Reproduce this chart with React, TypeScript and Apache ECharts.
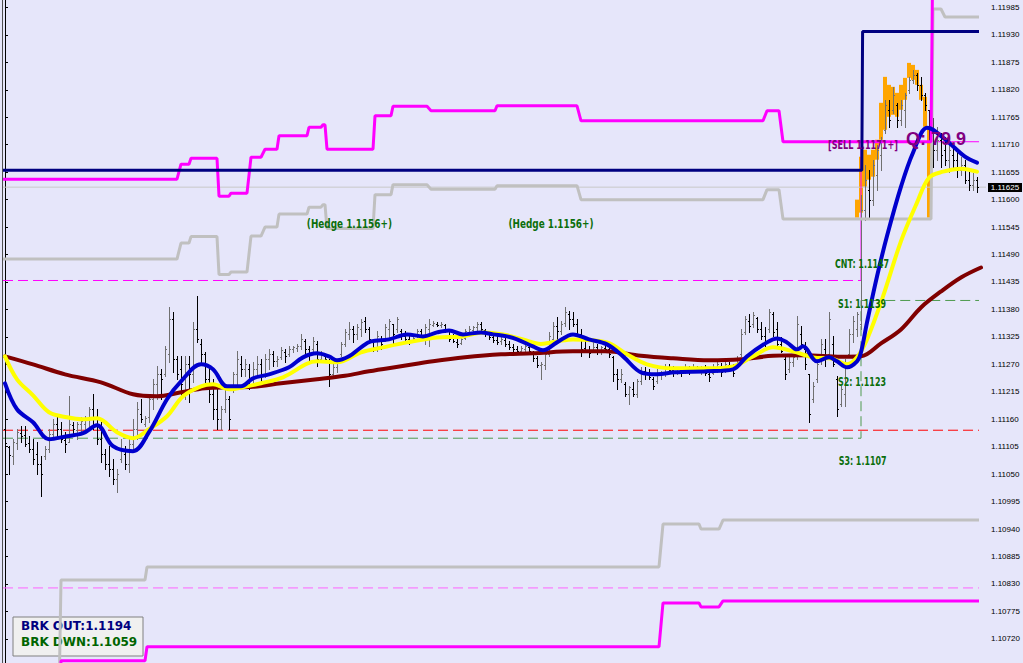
import React, { useEffect, useRef } from "react";
import * as echarts from "echarts";

// price = 1.10000 + v * 0.00001
const BASE = 1.1;
const PT = 0.00001;

const barOpen = [1140,1104,1086,1112,1132,1128,1112,1100,1090,1070,1086,1100,1130,1150,1140,1118,1114,1148,1138,1150,1150,1160,1180,1160,1120,1090,1070,1060,1040,1080,1090,1070,1110,1140,1170,1150,1165,1200,1230,1250,1250,1290,1360,1280,1260,1240,1270,1250,1340,1310,1290,1240,1210,1180,1160,1180,1200,1220,1250,1270,1260,1260,1240,1260,1270,1250,1280,1290,1276,1285,1295,1290,1300,1302,1306,1316,1300,1300,1310,1280,1286,1276,1250,1264,1290,1310,1330,1340,1330,1340,1356,1340,1316,1304,1320,1316,1340,1350,1340,1336,1326,1320,1318,1326,1336,1326,1340,1348,1350,1348,1348,1336,1322,1314,1312,1322,1334,1338,1344,1350,1338,1330,1324,1318,1316,1318,1310,1304,1300,1296,1300,1304,1292,1282,1268,1268,1290,1320,1346,1336,1352,1370,1360,1350,1330,1302,1296,1296,1304,1296,1302,1300,1284,1250,1240,1230,1210,1220,1210,1236,1256,1250,1240,1236,1250,1254,1262,1258,1256,1258,1254,1262,1258,1262,1258,1262,1250,1252,1262,1266,1256,1268,1262,1270,1290,1334,1356,1350,1362,1340,1326,1340,1370,1340,1310,1280,1260,1274,1290,1330,1300,1250,1200,1240,1276,1300,1290,1310,1240,1190,1210,1290,1330,1340,1350,1580,1620,1600,1650,1690,1740,1780,1780,1790,1760,1780,1820,1840,1850,1830,1810,1780,1740,1700,1720,1700,1680,1690,1680,1660,1670,1640,1630,1640];
const barHigh = [1154,1106,1120,1140,1146,1146,1126,1120,1114,1086,1106,1140,1160,1166,1154,1134,1206,1154,1154,1164,1166,1184,1210,1180,1154,1100,1106,1080,1060,1120,1106,1120,1160,1194,1200,1166,1206,1240,1266,1260,1306,1384,1374,1286,1286,1286,1286,1354,1406,1320,1294,1266,1240,1226,1186,1220,1206,1254,1296,1286,1280,1270,1274,1286,1280,1290,1300,1296,1286,1304,1300,1306,1306,1310,1330,1320,1306,1324,1316,1296,1290,1280,1274,1280,1314,1340,1354,1346,1350,1360,1364,1344,1320,1336,1326,1350,1360,1350,1364,1340,1336,1326,1326,1340,1340,1350,1360,1356,1354,1354,1350,1340,1330,1320,1326,1340,1346,1346,1354,1354,1340,1334,1330,1326,1324,1324,1316,1310,1306,1306,1310,1306,1296,1286,1274,1294,1334,1354,1364,1356,1384,1376,1374,1360,1340,1320,1306,1314,1310,1306,1310,1306,1286,1260,1260,1234,1226,1234,1240,1264,1264,1260,1244,1260,1256,1270,1270,1266,1264,1264,1270,1266,1270,1266,1266,1268,1260,1270,1274,1272,1276,1274,1270,1286,1340,1366,1370,1374,1364,1354,1344,1380,1374,1354,1324,1290,1286,1290,1366,1346,1314,1250,1234,1280,1320,1320,1374,1326,1246,1226,1280,1340,1366,1374,1610,1670,1660,1680,1710,1726,1800,1800,1826,1794,1800,1814,1846,1860,1854,1846,1814,1780,1764,1746,1734,1726,1710,1714,1700,1686,1680,1660,1654,1646];
const barLow = [1106,1050,1070,1100,1114,1106,1094,1070,1050,1006,1080,1094,1120,1126,1114,1094,1114,1126,1120,1130,1134,1140,1140,1110,1074,1060,1046,1030,1014,1074,1060,1054,1100,1120,1154,1146,1154,1180,1200,1200,1246,1274,1254,1240,1200,1200,1194,1234,1314,1274,1220,1194,1160,1140,1140,1174,1140,1214,1220,1246,1246,1220,1226,1246,1234,1244,1260,1266,1266,1280,1274,1286,1294,1296,1300,1290,1274,1294,1266,1274,1274,1226,1246,1254,1286,1306,1320,1314,1320,1326,1334,1314,1296,1296,1300,1316,1320,1310,1334,1320,1316,1310,1316,1324,1320,1310,1306,1346,1346,1344,1334,1316,1314,1304,1310,1320,1326,1334,1336,1336,1326,1320,1314,1310,1310,1306,1300,1294,1290,1290,1294,1290,1276,1264,1240,1260,1286,1306,1316,1330,1346,1340,1346,1326,1286,1294,1284,1294,1290,1290,1296,1284,1236,1220,1234,1206,1190,1206,1204,1230,1240,1240,1220,1232,1240,1246,1254,1246,1250,1246,1252,1250,1254,1254,1250,1248,1236,1250,1254,1246,1254,1256,1246,1266,1286,1330,1334,1344,1334,1320,1306,1334,1326,1306,1294,1240,1254,1266,1280,1306,1260,1154,1194,1234,1270,1266,1280,1266,1166,1186,1186,1286,1314,1326,1340,1560,1566,1590,1620,1660,1734,1746,1774,1746,1750,1746,1814,1834,1820,1800,1780,1720,1666,1680,1666,1670,1656,1666,1646,1650,1634,1620,1620,1616];
const barClose = [1112,1088,1115,1135,1126,1110,1100,1080,1070,1050,1100,1130,1150,1140,1120,1110,1150,1140,1150,1156,1160,1180,1150,1120,1090,1070,1060,1040,1050,1100,1070,1110,1140,1180,1160,1162,1200,1230,1250,1240,1300,1360,1280,1250,1230,1270,1250,1340,1320,1290,1240,1210,1180,1160,1180,1200,1160,1250,1280,1260,1270,1240,1260,1270,1250,1280,1290,1276,1280,1298,1286,1300,1304,1306,1320,1300,1290,1316,1280,1290,1280,1250,1264,1276,1310,1334,1340,1330,1345,1355,1340,1320,1304,1326,1310,1344,1356,1330,1360,1326,1320,1316,1322,1336,1326,1344,1350,1352,1348,1350,1340,1320,1316,1310,1320,1336,1340,1344,1350,1340,1330,1324,1318,1314,1320,1310,1304,1300,1296,1302,1306,1296,1282,1268,1270,1290,1326,1346,1336,1350,1374,1360,1350,1330,1300,1298,1292,1304,1296,1304,1300,1290,1250,1240,1250,1210,1225,1210,1236,1256,1250,1244,1226,1250,1254,1262,1258,1256,1260,1252,1264,1256,1264,1258,1262,1252,1244,1262,1270,1254,1270,1262,1252,1282,1330,1360,1346,1368,1340,1326,1312,1374,1334,1310,1296,1250,1274,1284,1350,1310,1270,1170,1226,1270,1310,1280,1360,1270,1180,1220,1270,1330,1356,1370,1580,1640,1600,1670,1700,1720,1790,1760,1810,1760,1790,1810,1840,1850,1830,1810,1790,1730,1700,1720,1690,1680,1700,1680,1660,1670,1640,1630,1640,1625];

// orange bodies: [bar, top, bottom]
const orangeBodies = [[213,1600,1564],[214,1686,1574],[215,1700,1626],[216,1690,1640],[217,1700,1646],[218,1720,1680],[219,1794,1720],[220,1846,1740],[221,1830,1766],[222,1826,1770],[223,1814,1766],[224,1830,1780],[225,1844,1800],[226,1874,1844],[227,1870,1840],[228,1860,1830],[229,1830,1800],[230,1806,1746],[231,1746,1564]];

const blueMA = [[0,1232],[3,1180],[7,1154],[11,1120],[15.5,1126],[19.5,1132],[23,1148],[27,1106],[32,1096],[36,1134],[40.5,1200],[44,1236],[49,1270],[52,1260],[55.5,1226],[59,1226],[62,1242],[66,1250],[71,1264],[74.5,1284],[78,1292],[81,1286],[83,1278],[86,1286],[89,1304],[91.5,1316],[96,1320],[100.5,1330],[104.5,1326],[108,1334],[111,1338],[114.5,1330],[119,1334],[122,1330],[125.5,1326],[128,1320],[132,1306],[134.5,1298],[138,1314],[142,1330],[146,1320],[150.5,1310],[154.5,1286],[159,1254],[163,1250],[167.5,1254],[175.5,1256],[182,1260],[185.5,1286],[190.5,1314],[193,1322],[195.5,1314],[198,1300],[199.5,1306],[203,1276],[206,1284],[208,1276],[210.5,1264],[213,1276],[214,1294],[215.5,1354],[218,1446],[220.5,1527],[224,1626],[227,1694],[230.5,1744],[232,1740],[236,1714],[240,1686],[243,1674]];
const yellowMA = [[0,1286],[3,1240],[7,1208],[11,1174],[15.5,1164],[19.5,1160],[23,1162],[28,1134],[32,1122],[36,1140],[40.5,1166],[44.5,1206],[49,1226],[52,1230],[56,1220],[60.5,1226],[64,1232],[69.5,1244],[78,1276],[83,1274],[89,1294],[94.5,1304],[100.5,1314],[108,1324],[114.5,1326],[119.5,1334],[124.5,1330],[129.5,1320],[134,1311],[138,1316],[142,1320],[150.5,1314],[155.5,1290],[160.5,1270],[167,1262],[175.5,1262],[182,1266],[187,1286],[192,1304],[197,1296],[202,1284],[207,1281],[210.5,1270],[213,1284],[215.5,1320],[219.5,1406],[224,1517],[228,1594],[231,1644],[234.5,1656],[239,1662],[243,1656]];
const maroonMA = [[0,1286],[7,1270],[15,1250],[24,1234],[32,1210],[38,1206],[44,1214],[50,1222],[57,1224],[62,1225],[69,1232],[78,1240],[85,1247],[91,1256],[99,1266],[107,1276],[115,1284],[124,1290],[132,1292],[142,1296],[150,1296],[159,1287],[167,1282],[176,1278],[184,1280],[192,1287],[200,1288],[209,1285],[214,1286],[219,1312],[224,1340],[229,1384],[234,1416],[239,1444],[244,1464]];

const upperMagenta = [[-0.5,1641],[43,1641],[44,1671],[46,1671],[46.5,1683],[53,1683],[53.5,1607],[56,1607],[56.5,1613],[60.5,1613],[61.5,1685],[64,1685],[65,1701],[68,1701],[68.5,1728],[75.5,1728],[76,1745],[79,1745],[79.5,1750],[80,1750],[80.5,1701],[92,1701],[92.5,1768],[96.5,1768],[97,1787],[105.5,1787],[106.5,1778],[122.5,1778],[123,1788],[143,1788],[144,1758],[189.5,1758],[190.5,1778],[193.5,1778],[194.5,1716],[231.5,1716],[232,2142],[233.5,2142],[234,2126],[243.5,2126]];
const upperGray = [[-0.5,1481],[43,1481],[44,1513],[46,1513],[46.5,1526],[53,1526],[53.5,1450],[56,1450],[56.5,1455],[60.5,1455],[61.5,1527],[64,1527],[65,1545],[68,1545],[68.5,1571],[75.5,1571],[76,1585],[79,1585],[79.5,1590],[80,1590],[80.5,1542],[92,1542],[92.5,1610],[96.5,1610],[97,1630],[105.5,1630],[106.5,1621],[122.5,1621],[123,1628],[143,1628],[144,1600],[189.5,1600],[190.5,1620],[193.5,1620],[194.5,1561],[231.5,1561],[232,1982],[234,1982],[235,1966],[243.5,1966]];
const lowerGray = [[-0.5,600],[13.5,600],[14,838],[35,838],[35.5,864],[163.5,864],[164.5,950],[173.5,950],[174,940],[178.5,940],[179.5,958],[243.5,958]];
const lowerMagenta = [[-0.5,520],[13.5,520],[14,676],[35,676],[35.5,704],[163.5,704],[164.5,792],[173.5,792],[174,784],[178.5,784],[179.5,796],[243.5,796]];
const breakLine = [[-0.5,1659],[214.2,1659],[214.4,1937],[243.5,1937]];

const pinkDash = [[-0.5,1438],[214,1438]];
const sellLine = [[214,1438],[214,1716],[243.5,1716]];
const redDash = [[-0.5,1138],[243.5,1138]];
const greenDash = [[-0.5,1122],[214,1122],[214,1398],[243.5,1398]];
const pinkDashLow = [[-0.5,822],[243.5,822]];
const bidLine = [[-0.5,1625],[245.25,1625]];

const bidPrice = 1.11625;

// label anchors: [bar, level, text]
const hedgeLabels: any[] = [[86.1,1552,"(Hedge 1.1156+)"],[136.5,1552,"(Hedge 1.1156+)"]];
const levelLabels: any[] = [[214.25,1472,"CNT: 1.1147"],[214.25,1392,"S1: 1.1139"],[214.25,1234,"S2: 1.1123"],[214.4,1076,"S3: 1.1107"]];
const sellLabels: any[] = [[214.5,1710,"[SELL 1.1171+]"]];
const qLabels: any[] = [[232.75,1721,"Q: 79.9"]];

const tickValues = [1.10665,1.1072,1.10775,1.1083,1.10885,1.1094,1.10995,1.1105,1.11105,1.1116,1.11215,1.1127,1.11325,1.1138,1.11435,1.1149,1.11545,1.116,1.11655,1.1171,1.11765,1.1182,1.11875,1.1193,1.11985];

const legendLines = ["BRK OUT:1.1194", "BRK DWN:1.1059"];

const price = (v: number) => +(BASE + v * PT).toFixed(5);
const toPts = (arr: number[][]) => arr.map((p) => [p[0], price(p[1])]);

const COND = "'DejaVu Sans Condensed','Liberation Sans Narrow',sans-serif";

export default function App() {
  const ref = useRef<HTMLDivElement>(null);
  useEffect(() => {
    if (!ref.current) return;
    const chart = echarts.init(ref.current, undefined, { renderer: "svg" });

    const ohlc = barOpen.map((o, i) => [i, price(o), price(barHigh[i]), price(barLow[i]), price(barClose[i])]);
    const orange = orangeBodies.map((b) => [b[0], price(b[1]), price(b[2])]);

    const stepLine = (name: string, data: number[][], color: string, width: number, z: number, type: any = "solid") => ({
      name, type: "line", data: toPts(data), symbol: "none", silent: true, z,
      lineStyle: { color, width, type }, clip: true,
    });
    const maLine = (name: string, data: number[][], color: string, width: number, z: number) => ({
      name, type: "line", data: toPts(data), symbol: "none", smooth: 0.35, silent: true, z,
      lineStyle: { color, width, cap: "round", join: "round" }, clip: true,
    });

    const option: any = {
      animation: false,
      backgroundColor: "#E6E6FA",
      grid: { left: 3, right: 37, top: 0, bottom: 0, show: false },
      xAxis: { type: "value", min: -0.5, max: 245.25, show: false },
      yAxis: {
        type: "value", position: "right", min: 1.106716, max: 1.12,
        splitLine: { show: false },
        axisLine: { show: true, lineStyle: { color: "#000", width: 1 } },
        axisTick: { show: true, length: 3, lineStyle: { color: "#000" }, customValues: tickValues },
        axisLabel: {
          show: true, customValues: tickValues, margin: 5, color: "#000", fontSize: 8,
          fontFamily: "'Liberation Sans', Arial, sans-serif",
          formatter: (v: number) => v.toFixed(5),
        },
      },
      series: [
        {
          type: "custom", name: "orange", z: 1, silent: true, clip: true,
          data: orange, encode: { x: 0, y: [1, 2] },
          renderItem: (params: any, api: any) => {
            const i = api.value(0);
            const p1 = api.coord([i - 0.5, api.value(1)]);
            const p2 = api.coord([i + 0.5, api.value(2)]);
            return { type: "rect", shape: { x: Math.round(p1[0]), y: p1[1], width: Math.max(1, Math.round(p2[0] - p1[0])), height: p2[1] - p1[1] }, style: { fill: "#FFA500" } };
          },
        },
        stepLine("bid", bidLine, "#C8C8C8", 1, 1),
        stepLine("pinkDash", pinkDash, "#FF00FF", 1, 2, [10, 5]),
        stepLine("sell", sellLine, "#FF00FF", 1, 2),
        stepLine("redDash", redDash, "#FF0000", 1, 2, [10, 5]),
        stepLine("greenDash", greenDash, "#4E9A4E", 1, 2, [10, 5]),
        stepLine("pinkDashLow", pinkDashLow, "#FF66FF", 1, 2, [10, 5]),
        {
          type: "custom", name: "bars", z: 3, silent: true, clip: true,
          data: ohlc, encode: { x: 0, y: [1, 2, 3, 4] },
          renderItem: (params: any, api: any) => {
            const i = api.value(0);
            const o = api.value(1), h = api.value(2), l = api.value(3), c = api.value(4);
            const pH = api.coord([i, h]);
            const pL = api.coord([i, l]);
            const pO = api.coord([i, o]);
            const pC = api.coord([i, c]);
            const x = Math.round(pH[0]) + 0.5;
            const color = c >= o ? "#707070" : "#000000";
            const yo = Math.round(pO[1]) + 0.5;
            const yc = Math.round(pC[1]) + 0.5;
            return {
              type: "group",
              children: [
                { type: "line", shape: { x1: x, y1: Math.round(pH[1]), x2: x, y2: Math.round(pL[1]) + 1 }, style: { stroke: color, lineWidth: 1 } },
                { type: "line", shape: { x1: x - 1.5, y1: yo, x2: x, y2: yo }, style: { stroke: color, lineWidth: 1 } },
                { type: "line", shape: { x1: x, y1: yc, x2: x + 1.5, y2: yc }, style: { stroke: color, lineWidth: 1 } },
              ],
            };
          },
        },
        stepLine("upperGray", upperGray, "#C0C0C0", 3, 4),
        stepLine("lowerGray", lowerGray, "#C0C0C0", 3, 4),
        stepLine("upperMagenta", upperMagenta, "#FF00FF", 3, 4),
        stepLine("lowerMagenta", lowerMagenta, "#FF00FF", 3, 4),
        stepLine("breakout", breakLine, "#000080", 3, 4),
        maLine("maroon", maroonMA, "#800000", 4, 5),
        maLine("yellow", yellowMA, "#FFFF00", 4, 6),
        maLine("blue", blueMA, "#0000CD", 4, 7),
      ],
    };
    chart.setOption(option);

    const toPx = (i: number, v: number) => chart.convertToPixel({ xAxisIndex: 0, yAxisIndex: 0 }, [i, price(v)]) as number[];
    const textEl = (d: any[], color: string, font: string, scaleX: number) => {
      const p = toPx(d[0], d[1]);
      return {
        type: "text", x: p[0], y: p[1], scaleX, z: 50,
        style: { text: d[2], fill: color, font, align: "center", verticalAlign: "middle" },
      };
    };
    const bidY = (chart.convertToPixel({ yAxisIndex: 0 }, bidPrice) as number);

    const graphics: any[] = [
      { type: "line", shape: { x1: 2.5, y1: 0, x2: 2.5, y2: 663 }, style: { stroke: "#505050", lineWidth: 1 }, z: 100 },
      ...hedgeLabels.map((d) => textEl(d, "#0B6E0B", `bold 13px ${COND}`, 0.76)),
      ...levelLabels.map((d) => textEl(d, "#0B6E0B", `bold 13px ${COND}`, 0.68)),
      ...sellLabels.map((d) => textEl(d, "#800080", `bold 12px ${COND}`, 0.75)),
      ...qLabels.map((d) => textEl(d, "#800080", "bold 18px 'Liberation Sans', Arial, sans-serif", 1)),
      {
        type: "group", x: 988, y: Math.round(bidY) - 4, z: 100,
        children: [
          { type: "rect", shape: { x: 0, y: 0, width: 34, height: 9 }, style: { fill: "#000" } },
          { type: "text", x: 17, y: 4.5, style: { text: bidPrice.toFixed(5), fill: "#fff", font: "8px 'Liberation Sans', Arial, sans-serif", align: "center", verticalAlign: "middle" } },
        ],
      },
      {
        type: "group", x: 13, y: 617, z: 100,
        children: [
          { type: "rect", shape: { x: 0, y: 0, width: 130, height: 39 }, style: { fill: "#F0F0F0", stroke: "#808080", lineWidth: 1 } },
          { type: "text", x: 8, y: 9, style: { text: legendLines[0], fill: "#000080", font: "bold 12px 'DejaVu Sans', sans-serif", verticalAlign: "middle" } },
          { type: "text", x: 8, y: 25, style: { text: legendLines[1], fill: "#006400", font: "bold 12px 'DejaVu Sans', sans-serif", verticalAlign: "middle" } },
        ],
      },
    ];
    chart.setOption({ graphic: graphics });
    return () => chart.dispose();
  }, []);
  return <div ref={ref} style={{ position: "fixed", left: 0, top: 0, width: 1023, height: 663 }} />;
}
